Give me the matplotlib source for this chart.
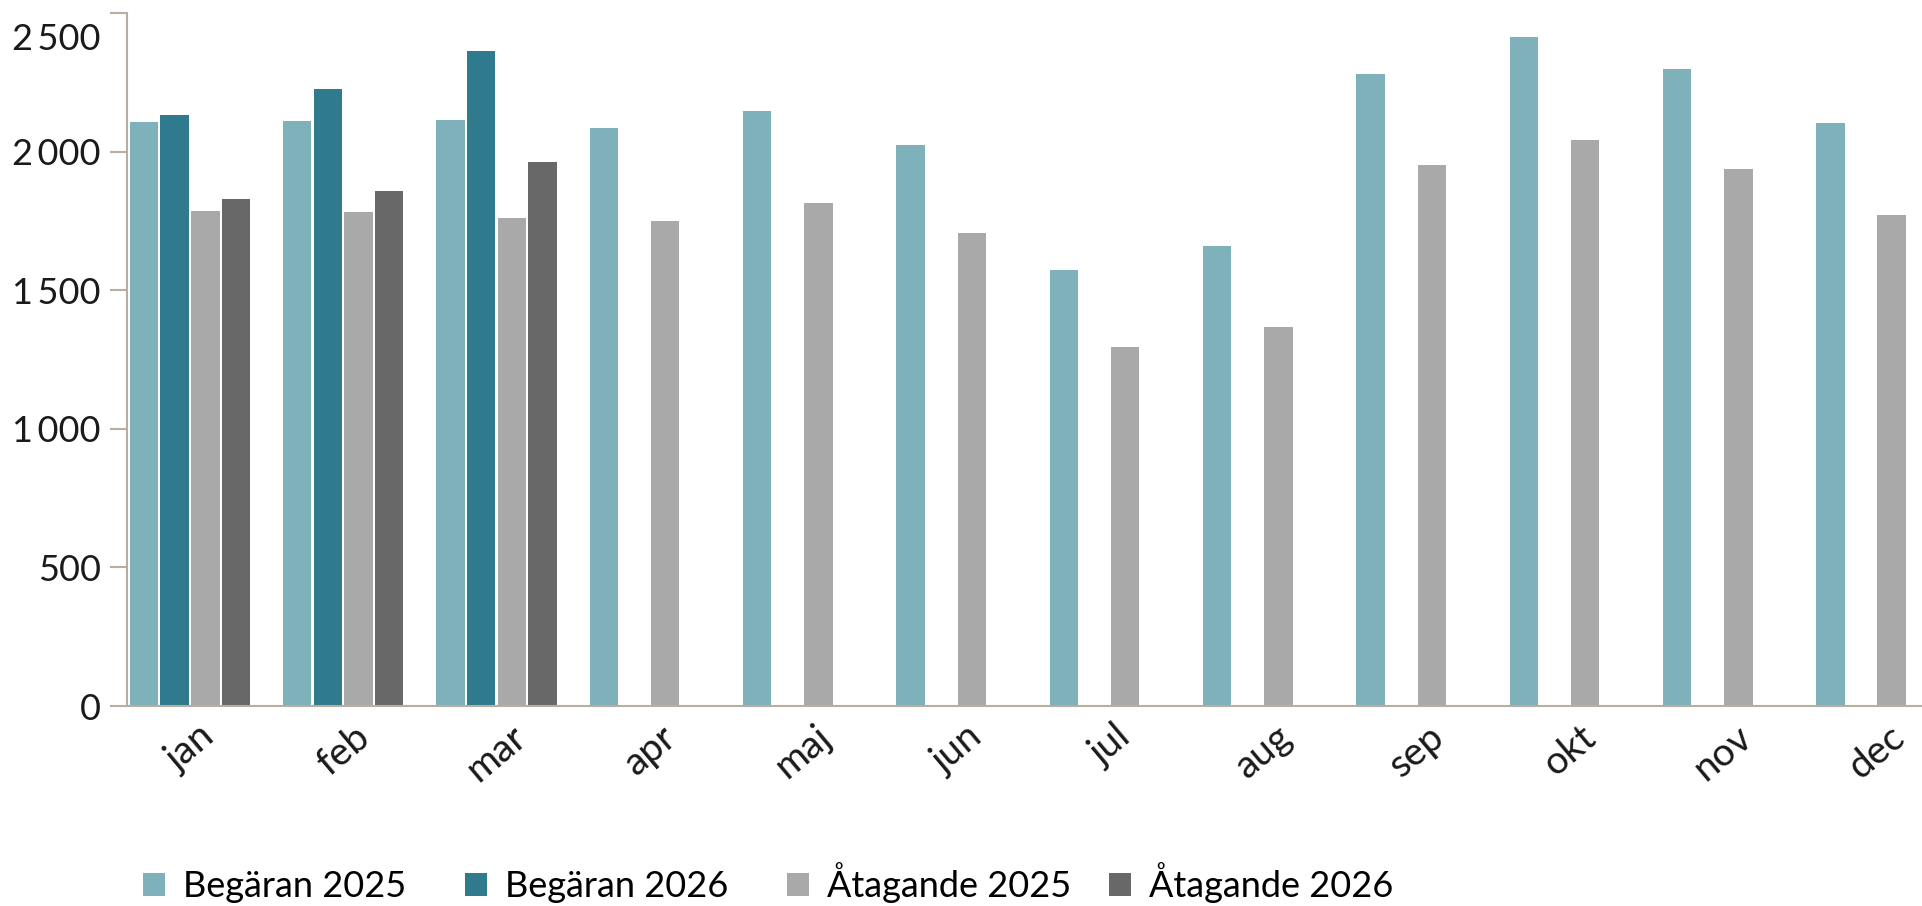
import matplotlib
matplotlib.use("Agg")
import matplotlib.pyplot as plt
import matplotlib.transforms as mtransforms
import numpy as np

plt.rcParams["font.family"] = ["Lato", "DejaVu Sans"]

# data
months = ["jan", "feb", "mar", "apr", "maj", "jun", "jul", "aug", "sep", "okt", "nov", "dec"]
begaran_2025 = [2109, 2112, 2116, 2086, 2149, 2025, 1574, 1660, 2281, 2413, 2299, 2103]
begaran_2026 = [2134, 2227, 2365]
atagande_2025 = [1786, 1783, 1760, 1749, 1816, 1708, 1296, 1369, 1951, 2043, 1939, 1772]
atagande_2026 = [1829, 1860, 1962]
yticks = [0, 500, 1000, 1500, 2000, 2500]
ytick_labels = ["0", "500", "1\u2009000", "1\u2009500", "2\u2009000", "2\u2009500"]

series = [
    ("Begäran 2025", begaran_2025, "#7fb1bb"),
    ("Begäran 2026", begaran_2026, "#2f7a8c"),
    ("Åtagande 2025", atagande_2025, "#a9a9a9"),
    ("Åtagande 2026", atagande_2026, "#686868"),
]

fig = plt.figure(figsize=(19.22, 9.06), dpi=100)
ax = fig.add_axes([127 / 1922, 1 - 706 / 906, 1 - 127 / 1922, (706 - 13.3) / 906])

step = 0.2
width = 0.185
for i, (name, vals, color) in enumerate(series):
    x = np.arange(len(vals)) + (i - 1.5) * step
    ax.bar(x, vals, width=width, color=color, label=name, zorder=2)

ax.set_xlim(-0.411, 11.298)
ax.set_ylim(0, 2500)

axis_col = "#b8ae9f"
for s in ["top", "right"]:
    ax.spines[s].set_visible(False)
for s in ["left", "bottom"]:
    ax.spines[s].set_color(axis_col)
    ax.spines[s].set_linewidth(1.5)
    ax.spines[s].set_zorder(3)

ax.set_yticks(yticks)
ax.set_yticklabels(ytick_labels)
ax.tick_params(axis="y", length=12, width=1.5, color=axis_col, labelsize=26,
               labelcolor="#1a1a1a", pad=7)
ax.set_xticks(np.arange(len(months)))
ax.set_xticklabels(months, rotation=40, ha="center")
ax.tick_params(axis="x", length=0, labelsize=28, labelcolor="#1a1a1a", pad=9)

# top label sits a bit below its tick in the original
top_lbl = ax.yaxis.get_major_ticks()[-1].label1
top_lbl.set_transform(top_lbl.get_transform()
                      + mtransforms.ScaledTranslation(0, -0.235, fig.dpi_scale_trans))

# legend items are equally spaced in the original, so one legend per item
handles, labels = ax.get_legend_handles_labels()
for i, (h, l) in enumerate(zip(handles, labels)):
    fig.legend([h], [l], loc="lower left",
               bbox_to_anchor=((143 + 322 * i) / 1922, 3 / 906),
               frameon=False, fontsize=26, handlelength=0.62, handleheight=0.6,
               handletextpad=0.5, borderpad=0, borderaxespad=0)

fig.savefig("out.png", dpi=100)
